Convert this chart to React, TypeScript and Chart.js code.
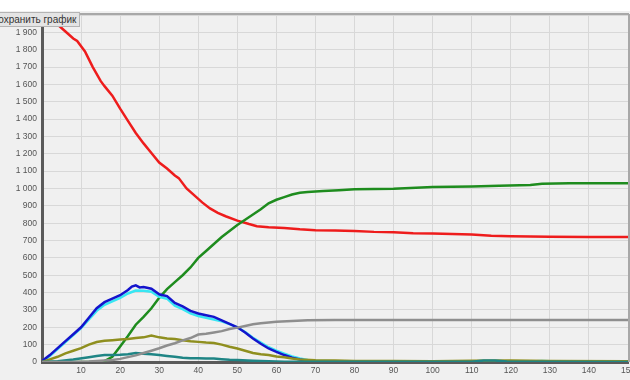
import React, { useEffect, useRef } from "react";
import { Chart, registerables } from "chart.js";

Chart.register(...registerables);

// Epidemic model output: [day, people] per group
const susceptible: [number, number][] = [
  [0, 1995], [2, 1975], [4, 1945], [6, 1905], [8, 1865], [9, 1850], [11, 1790], [13, 1700],
  [15, 1620], [16, 1590], [18, 1535], [20, 1460], [22, 1390], [24, 1320], [26, 1260], [28, 1205],
  [30, 1150], [32, 1115], [34, 1075], [35, 1060], [37, 1000], [39, 960], [41, 920], [43, 885],
  [45, 860], [47, 840], [50, 815], [53, 795], [55, 783], [58, 776], [62, 772], [66, 765],
  [70, 760], [75, 758], [80, 755], [85, 750], [90, 748], [95, 742], [100, 740], [105, 738],
  [110, 735], [115, 728], [120, 725], [125, 724], [130, 722], [140, 721], [150, 720],
];

const recovered: [number, number][] = [
  [0, 0], [14, 0], [16, 5], [18, 30], [20, 90], [22, 150], [24, 215], [26, 260], [28, 310],
  [30, 370], [32, 420], [34, 460], [36, 500], [38, 545], [40, 600], [42, 640], [44, 680],
  [46, 720], [48, 755], [50, 790], [52, 820], [54, 850], [56, 880], [58, 915], [60, 935],
  [62, 950], [64, 965], [66, 975], [68, 980], [72, 985], [76, 990], [80, 995], [90, 998],
  [100, 1008], [110, 1012], [117, 1016], [125, 1020], [128, 1028], [135, 1030], [150, 1030],
];

const infected: [number, number][] = [
  [0, 5], [2, 40], [4, 80], [6, 120], [8, 160], [10, 200], [12, 255], [14, 310], [16, 345],
  [18, 365], [20, 385], [22, 415], [23, 435], [24, 442], [25, 430], [26, 432], [28, 422],
  [30, 390], [31, 385], [32, 380], [34, 340], [36, 320], [38, 295], [40, 280], [42, 270],
  [44, 260], [46, 240], [48, 220], [50, 200], [52, 170], [54, 135], [56, 105], [58, 78],
  [60, 58], [62, 40], [64, 25], [66, 15], [68, 8], [70, 4], [75, 2], [80, 1], [100, 1], [150, 0],
];

const detected: [number, number][] = [
  [0, 3], [2, 35], [4, 75], [6, 115], [8, 155], [10, 195], [12, 245], [14, 295], [16, 330],
  [18, 350], [20, 370], [22, 395], [24, 412], [26, 410], [28, 405], [30, 375], [32, 365],
  [34, 325], [36, 305], [38, 280], [40, 265], [42, 255], [44, 245], [46, 235], [48, 218],
  [50, 200], [52, 172], [54, 140], [56, 112], [58, 85], [60, 65], [62, 48], [64, 32],
  [66, 20], [68, 12], [70, 7], [75, 4], [80, 2], [100, 2], [125, 3], [128, 6], [132, 3],
  [140, 1], [150, 1],
];

const hospitalized: [number, number][] = [
  [0, 0], [2, 15], [4, 30], [6, 50], [8, 65], [10, 80], [12, 100], [14, 115], [16, 122],
  [18, 126], [20, 130], [22, 132], [24, 138], [26, 142], [28, 152], [30, 142], [32, 136],
  [34, 132], [36, 126], [38, 120], [40, 116], [42, 112], [44, 110], [46, 100], [48, 88],
  [50, 78], [52, 65], [54, 52], [56, 45], [58, 40], [60, 32], [62, 27], [64, 20], [66, 15],
  [70, 10], [75, 8], [80, 6], [90, 6], [100, 5], [110, 7], [120, 8], [130, 6], [150, 5],
];

const critical: [number, number][] = [
  [0, 0], [4, 5], [8, 14], [12, 28], [14, 35], [16, 40], [18, 40], [20, 42], [22, 45],
  [24, 52], [26, 48], [28, 44], [30, 40], [32, 35], [34, 30], [36, 25], [38, 22], [40, 22],
  [42, 20], [44, 20], [46, 16], [48, 13], [50, 11], [54, 7], [58, 4], [62, 2], [70, 1],
  [100, 1], [110, 2], [113, 8], [116, 8], [119, 3], [130, 1], [150, 0],
];

const deceased: [number, number][] = [
  [0, 0], [8, 0], [12, 3], [16, 8], [18, 11], [20, 18], [22, 28], [24, 38], [26, 52],
  [28, 65], [30, 79], [32, 95], [34, 108], [36, 125], [38, 138], [40, 158], [42, 163],
  [44, 170], [46, 178], [48, 190], [50, 198], [52, 208], [54, 218], [56, 224], [58, 228],
  [60, 232], [64, 236], [68, 240], [75, 242], [150, 242],
];

const X_MAX = 150;
const Y_MAX = 2000;

const fmt = (v: number) => String(v).replace(/\B(?=(\d{3})+(?!\d))/g, " ");

const toPoints = (arr: [number, number][]) => arr.map(([x, y]) => ({ x, y }));

const panelPlugin = {
  id: "panel",
  beforeDraw(chart: any) {
    const { ctx, width, height } = chart;
    ctx.save();
    ctx.fillStyle = "#ffffff";
    ctx.fillRect(0, 0, width, height);
    ctx.fillStyle = "#f0f0f0";
    ctx.fillRect(0, 11, width, height - 11);
    ctx.restore();
  },
  afterDraw(chart: any) {
    const { ctx, chartArea } = chart;
    ctx.save();
    ctx.strokeStyle = "#a8a8a8";
    ctx.lineWidth = 2;
    ctx.beginPath();
    ctx.moveTo(chartArea.left, chartArea.top - 1);
    ctx.lineTo(chartArea.right + 1, chartArea.top - 1);
    ctx.moveTo(chartArea.right + 1, chartArea.top - 1);
    ctx.lineTo(chartArea.right + 1, chartArea.bottom);
    ctx.stroke();
    ctx.restore();
  },
};

export default function App() {
  const ref = useRef<HTMLCanvasElement>(null);

  useEffect(() => {
    if (!ref.current) return;
    const line = (data: [number, number][], color: string) => ({
      data: toPoints(data),
      borderColor: color,
      backgroundColor: color,
      borderWidth: 2.5,
      pointRadius: 0,
      tension: 0,
    });
    const tickFont = { family: "'Liberation Sans', Arial, sans-serif", size: 8.5 };
    const chart = new Chart(ref.current, {
      type: "line",
      data: {
        datasets: [
          line(deceased, "#8e8e8e"),
          line(critical, "#1f8585"),
          line(hospitalized, "#8f8f1f"),
          line(infected, "#1414cc"),
          line(detected, "#38e6f2"),
          line(recovered, "#1e8c1e"),
          line(susceptible, "#ee1c1c"),
        ],
      },
      options: {
        responsive: false,
        animation: false,
        parsing: false,
        normalized: true,
        layout: { padding: { left: 0, right: 2, top: 15, bottom: 0 } },
        plugins: { legend: { display: false }, tooltip: { enabled: false } },
        scales: {
          x: {
            type: "linear",
            min: 0,
            max: X_MAX,
            ticks: {
              stepSize: 10,
              color: "#555",
              font: tickFont,
              padding: 4,
              maxRotation: 0,
              autoSkip: false,
              callback: (v: any) => (v === 0 ? "" : String(v)),
            },
            grid: { color: "#d8d8d8", lineWidth: 1, drawTicks: false },
            border: { color: "#5a5a5a", width: 3 },
            afterFit: (s: any) => {
              s.height = 18;
              s.paddingLeft = 0;
              s.paddingRight = 0;
            },
          },
          y: {
            min: 0,
            max: Y_MAX,
            ticks: {
              stepSize: 100,
              color: "#555",
              font: tickFont,
              padding: 5,
              autoSkip: false,
              callback: (v: any) => (Number(v) >= Y_MAX ? "" : fmt(Number(v))),
            },
            grid: { color: "#d8d8d8", lineWidth: 1, drawTicks: false },
            border: { color: "#5a5a5a", width: 3 },
            afterFit: (s: any) => {
              s.width = 42;
              s.paddingTop = 0;
              s.paddingBottom = 0;
            },
          },
        },
      },
      plugins: [panelPlugin],
    } as any);
    return () => chart.destroy();
  }, []);

  return (
    <div style={{ position: "fixed", left: 0, top: 0, width: 630, height: 380, overflow: "hidden", background: "#fff" }}>
      <canvas ref={ref} width={630} height={380} style={{ display: "block" }} />
      <div
        style={{
          position: "absolute",
          left: -13,
          top: 12,
          height: 13,
          lineHeight: "13px",
          padding: "0 3px",
          fontFamily: "'Liberation Sans', Arial, sans-serif",
          fontSize: 10,
          color: "#333",
          background: "#e4e4e4",
          border: "1px solid #b4b4b4",
          whiteSpace: "nowrap",
        }}
      >
        Сохранить график
      </div>
    </div>
  );
}
